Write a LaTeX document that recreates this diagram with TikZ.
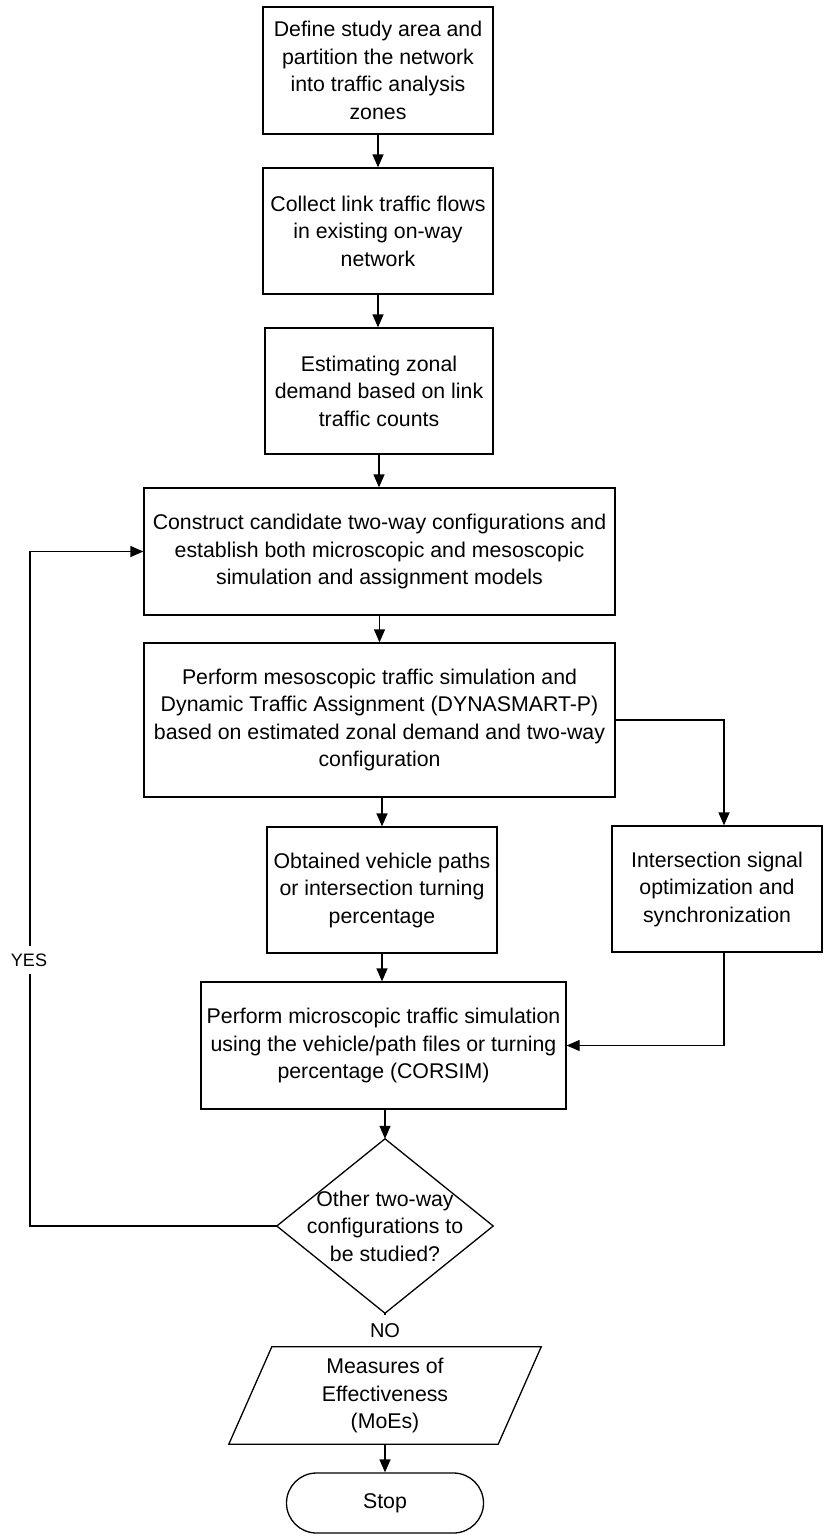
\documentclass[tikz,border=0pt]{standalone}
\usepackage{fontspec}
\setmainfont{Liberation Sans}
\usetikzlibrary{arrows.meta}
\begin{document}
\begin{tikzpicture}[x=1pt,y=-1pt,
  box/.style={draw, line width=1.3pt, align=center, inner sep=0pt, font=\fontsize{21.3}{27.5}\selectfont},
  shapetext/.style={align=center, inner sep=0pt, font=\fontsize{21.3}{27.5}\selectfont},
  conn/.style={line width=1.3pt, -{Triangle[length=13pt,width=11pt]}},
  plain/.style={line width=1.3pt},
  lbl/.style={fill=white, inner sep=0pt}
]
\useasboundingbox (0,0) rectangle (824,1536);
\fill[white] (0,0) rectangle (824,1536);

\node[box, minimum width=230pt, minimum height=127pt] (b1) at (378,70.5)
  {Define study area and\\partition the network\\into traffic analysis\\zones};
\node[box, minimum width=230pt, minimum height=126pt] (b2) at (378,231)
  {Collect link traffic flows\\in existing on-way\\network};
\node[box, minimum width=228pt, minimum height=126pt] (b3) at (379,391)
  {Estimating zonal\\demand based on link\\traffic counts};
\node[box, minimum width=471pt, minimum height=127pt] (b4) at (379.5,551.5)
  {Construct candidate two-way configurations and\\establish both microscopic and mesoscopic\\simulation and assignment models};
\node[box, minimum width=471pt, minimum height=154pt] (b5) at (379.5,720)
  {Perform mesoscopic traffic simulation and\\Dynamic Traffic Assignment (DYNASMART-P)\\based on estimated zonal demand and two-way\\configuration};
\node[box, minimum width=230pt, minimum height=126pt] (b6) at (382,890)
  {Obtained vehicle paths\\or intersection turning\\percentage};
\node[box, minimum width=210pt, minimum height=126pt] (b7) at (717,889)
  {Intersection signal\\optimization and\\synchronization};
\node[box, minimum width=365pt, minimum height=127pt] (b8) at (383.5,1045.5)
  {Perform microscopic traffic simulation\\using the vehicle/path files or turning\\percentage (CORSIM)};

\node[shapetext, minimum width=216pt, minimum height=174pt] (dia) at (385,1226)
  {Other two-way\\configurations to\\be studied?};
\draw[plain, line join=miter] (dia.north) -- (dia.east) -- (dia.south) -- (dia.west) -- cycle;

\node[shapetext, minimum width=312pt, minimum height=97pt] (para) at (385,1395.5)
  {Measures of\\Effectiveness\\(MoEs)};
\draw[plain] ([xshift=43pt]para.north west) -- (para.north east) -- ([xshift=-43pt]para.south east) -- (para.south west) -- cycle;

\node[box, rounded corners=30pt, minimum width=197pt, minimum height=60pt] (stop) at (385,1503) {Stop};

\coordinate (j1) at (724,720);
\coordinate (j2) at (724,1045.5);
\coordinate (l1) at (30,1226);

\draw[conn] (b1.south) -- (b2.north);
\draw[conn] (b2.south) -- (b2.south |- b3.north);
\draw[conn] (b3.south) -- (b3.south |- b4.north);
\draw[conn] (b4.south) -- (b5.north);
\draw[conn] (b5.south -| b6.north) -- (b6.north);
\draw[conn] (b5.east) -- (j1) -- (j1 |- b7.north);
\draw[conn] (b6.south) -- (b6.south |- b8.north);
\draw[conn] (b7.south -| j1) -- (j2) -- (b8.east |- j2);
\draw[conn] (b8.south -| dia.north) -- (dia.north);
\draw[plain] (dia.south) -- (para.north);
\draw[conn] (dia.west) -- (l1) -- (l1 |- b4.west) -- (b4.west);
\draw[conn] (para.south) -- (stop.north);

\node[lbl, minimum width=40pt, minimum height=31pt, font=\fontsize{20}{24}\selectfont] (no) at (385,1330.5) {NO};
\node[lbl, minimum height=28pt, font=\fontsize{18}{20}\selectfont] (yes) at (29,960) {YES};
\end{tikzpicture}
\end{document}
